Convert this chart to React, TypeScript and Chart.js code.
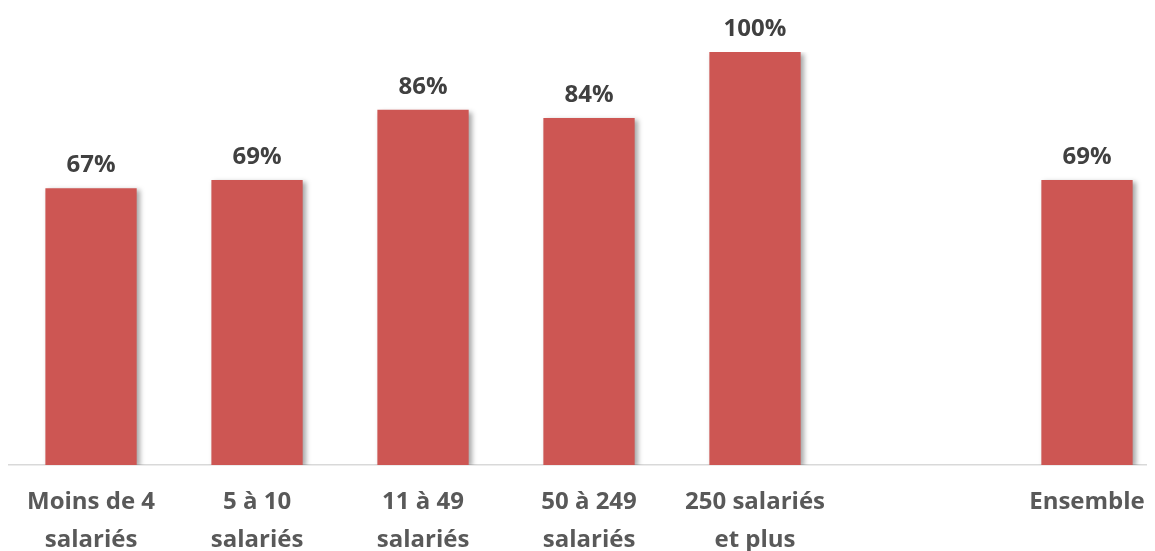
import React, { useEffect, useRef } from "react";
import { Chart, registerables } from "chart.js";

Chart.register(...registerables);

const categories: (string | string[])[] = [
  ["Moins de 4", "salariés"],
  ["5 à 10", "salariés"],
  ["11 à 49", "salariés"],
  ["50 à 249", "salariés"],
  ["250 salariés", "et plus"],
  "",
  "Ensemble",
];
const values: (number | null)[] = [67, 69, 86, 84, 100, null, 69];
const valueLabels: string[] = ["67%", "69%", "86%", "84%", "100%", "", "69%"];

const BAR_COLOR = "#CD5653";
const FONT = "'Open Sans', Lato, sans-serif";

const shadowPlugin = {
  id: "barShadow",
  beforeDatasetDraw(chart: any) {
    const ctx = chart.ctx;
    ctx.save();
    ctx.shadowColor = "rgba(0,0,0,0.35)";
    ctx.shadowOffsetX = 3;
    ctx.shadowOffsetY = 2;
    ctx.shadowBlur = 5;
  },
  afterDatasetDraw(chart: any) {
    chart.ctx.restore();
  },
};

const labelPlugin = {
  id: "valueLabels",
  afterDatasetsDraw(chart: any) {
    const ctx = chart.ctx;
    const meta = chart.getDatasetMeta(0);
    ctx.save();
    ctx.font = `bold 24px ${FONT}`;
    ctx.fillStyle = "#404040";
    ctx.textAlign = "center";
    ctx.textBaseline = "alphabetic";
    meta.data.forEach((bar: any, i: number) => {
      if (values[i] == null) return;
      ctx.fillText(valueLabels[i], bar.x, bar.y - 16);
    });
    ctx.restore();
  },
};

export default function App() {
  const ref = useRef<HTMLCanvasElement>(null);
  useEffect(() => {
    if (!ref.current) return;
    const chart = new Chart(ref.current, {
      type: "bar",
      data: {
        labels: categories,
        datasets: [
          {
            data: values,
            backgroundColor: BAR_COLOR,
            borderWidth: 0,
            categoryPercentage: 1,
            barPercentage: 0.55,
          },
        ],
      },
      options: {
        responsive: false,
        animation: false,
        layout: { padding: { top: 44, left: 0, right: 0, bottom: 0 } },
        plugins: {
          legend: { display: false },
          tooltip: { enabled: false },
        },
        scales: {
          x: {
            grid: { display: false, drawTicks: false },
            border: { display: true, color: "#D9D9D9", width: 1.5 },
            ticks: {
              color: "#595959",
              font: { family: FONT, size: 24, weight: "bold", lineHeight: 1.55 },
              padding: 19,
              maxRotation: 0,
              autoSkip: false,
            },
            afterFit: (scale: any) => {
              scale.height = 86;
            },
          },
          y: {
            display: false,
            min: 0,
            max: 100,
          },
        },
      },
      plugins: [shadowPlugin, labelPlugin],
    });
    return () => chart.destroy();
  }, []);
  return (
    <div style={{ width: 1147, height: 543, overflow: "hidden" }}>
      <canvas ref={ref} width={1162} height={543} style={{ display: "block" }} />
    </div>
  );
}
